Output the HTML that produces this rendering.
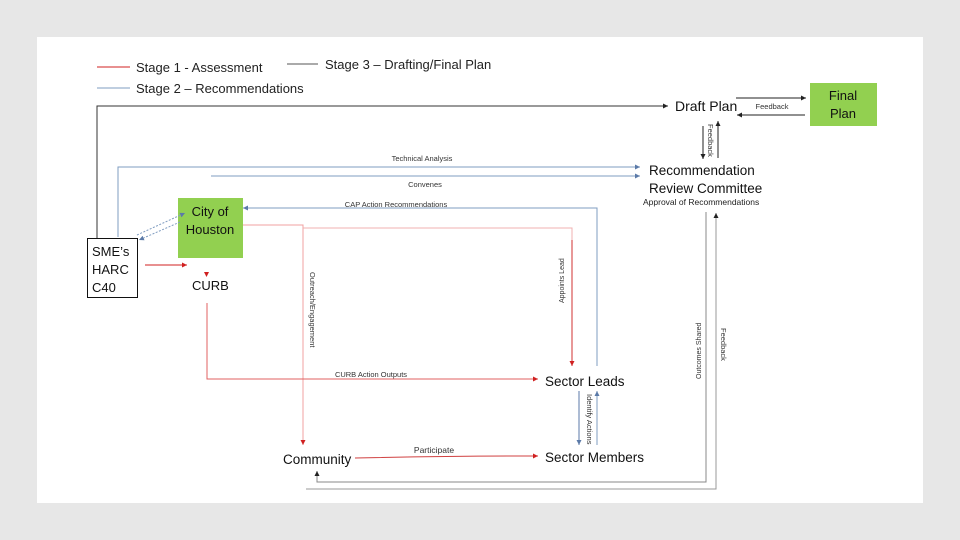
<!DOCTYPE html>
<html><head><meta charset="utf-8"><style>
html,body{margin:0;padding:0;background:#e7e7e7;}
svg{display:block;font-family:"Liberation Sans",sans-serif;}
</style></head><body>
<svg width="960" height="540" viewBox="0 0 960 540" xmlns="http://www.w3.org/2000/svg">
<defs>
<marker id="ak" markerWidth="6" markerHeight="6" refX="5" refY="3" orient="auto" markerUnits="userSpaceOnUse"><path d="M0,0.5 L5,3 L0,5.5z" fill="#222"/></marker>
<marker id="ab" markerWidth="6" markerHeight="6" refX="5" refY="3" orient="auto" markerUnits="userSpaceOnUse"><path d="M0,0.5 L5,3 L0,5.5z" fill="#5b7aa8"/></marker>
<marker id="ar" markerWidth="6" markerHeight="6" refX="5" refY="3" orient="auto" markerUnits="userSpaceOnUse"><path d="M0,0.5 L5,3 L0,5.5z" fill="#d02020"/></marker>
</defs>
<rect x="37" y="37" width="886" height="466" fill="#fff"/>
<!-- legend -->
<line x1="97" y1="67" x2="130" y2="67" stroke="#d02020"/>
<text x="136" y="72" font-size="13" fill="#222">Stage 1 - Assessment</text>
<line x1="287" y1="64" x2="318" y2="64" stroke="#555"/>
<text x="325" y="69" font-size="13" fill="#222">Stage 3 – Drafting/Final Plan</text>
<line x1="97" y1="88" x2="130" y2="88" stroke="#7f9cc0"/>
<text x="136" y="93" font-size="13" fill="#222">Stage 2 – Recommendations</text>
<!-- black top line -->
<polyline points="97,238 97,106 668,106" fill="none" stroke="#333" marker-end="url(#ak)"/>
<text x="675" y="111" font-size="14" fill="#111">Draft Plan</text>
<rect x="810" y="83" width="67" height="43" fill="#92d050"/>
<text x="843" y="100" font-size="13" text-anchor="middle" fill="#111">Final</text>
<text x="843" y="118" font-size="13" text-anchor="middle" fill="#111">Plan</text>
<line x1="736" y1="98" x2="806" y2="98" stroke="#222" marker-end="url(#ak)"/>
<line x1="805" y1="115" x2="737" y2="115" stroke="#222" marker-end="url(#ak)"/>
<text x="772" y="109" font-size="7.5" text-anchor="middle" fill="#333">Feedback</text>
<line x1="703" y1="126" x2="703" y2="159" stroke="#222" marker-end="url(#ak)"/>
<line x1="718" y1="158" x2="718" y2="121" stroke="#222" marker-end="url(#ak)"/>
<text transform="translate(708,124) rotate(90)" font-size="7.5" fill="#333">Feedback</text>
<text x="649" y="175" font-size="13.5" fill="#111">Recommendation</text>
<text x="649" y="193" font-size="13.5" fill="#111">Review Committee</text>
<text x="643" y="205" font-size="8.5" fill="#222">Approval of Recommendations</text>
<!-- blue lines -->
<polyline points="118,237 118,167 640,167" fill="none" stroke="#7f9cc0" marker-end="url(#ab)"/>
<text x="422" y="161" font-size="7.5" text-anchor="middle" fill="#333">Technical Analysis</text>
<line x1="211" y1="176" x2="640" y2="176" stroke="#7f9cc0" marker-end="url(#ab)"/>
<text x="425" y="187" font-size="7.5" text-anchor="middle" fill="#333">Convenes</text>
<polyline points="597,366 597,208 243,208" fill="none" stroke="#7f9cc0" marker-end="url(#ab)"/>
<text x="396" y="207" font-size="7.5" text-anchor="middle" fill="#333">CAP Action Recommendations</text>
<!-- city of houston -->
<rect x="178" y="198" width="65" height="60" fill="#92d050"/>
<text x="210" y="216" font-size="13" text-anchor="middle" fill="#111">City of</text>
<text x="210" y="234" font-size="13" text-anchor="middle" fill="#111">Houston</text>
<line x1="137" y1="235" x2="185" y2="213" stroke="#7f9cc0" stroke-dasharray="2,1.5" marker-end="url(#ab)"/>
<line x1="180" y1="222" x2="139" y2="240" stroke="#7f9cc0" stroke-dasharray="2,1.5" marker-end="url(#ab)"/>
<!-- SME box -->
<rect x="87.5" y="238.5" width="50" height="59" fill="#fff" stroke="#111"/>
<text x="92" y="256" font-size="13" fill="#111">SME’s</text>
<text x="92" y="274" font-size="13" fill="#111">HARC</text>
<text x="92" y="292" font-size="13" fill="#111">C40</text>
<line x1="145" y1="265" x2="187" y2="265" stroke="#d02020" marker-end="url(#ar)"/>
<text x="192" y="290" font-size="13" fill="#111">CURB</text>
<path d="M204,272 L209,272 L206.5,277z" fill="#d02020"/>
<!-- pink lines -->
<polyline points="243,225 303,225 303,445" fill="none" stroke="#f0a0a0" marker-end="url(#ar)"/>
<polyline points="303,228 572,228 572,365" fill="none" stroke="#f0b0b0"/>
<line x1="572" y1="240" x2="572" y2="366" stroke="#d03030" marker-end="url(#ar)"/>
<text transform="translate(564,303) rotate(-90)" font-size="7" fill="#333">Appoints Lead</text>
<text transform="translate(310,272) rotate(90)" font-size="7.5" fill="#333">Outreach/Engagement</text>
<polyline points="207,303 207,379 538,379" fill="none" stroke="#e06060" marker-end="url(#ar)"/>
<text x="371" y="377" font-size="7.5" text-anchor="middle" fill="#333">CURB Action Outputs</text>
<text x="545" y="386" font-size="13.5" fill="#111">Sector Leads</text>
<line x1="579" y1="391" x2="579" y2="445" stroke="#5b7aa8" marker-end="url(#ab)"/>
<line x1="597" y1="445" x2="597" y2="391" stroke="#7f9cc0" marker-end="url(#ab)"/>
<text transform="translate(587,394) rotate(90)" font-size="7.5" fill="#333">Identify Actions</text>
<text x="545" y="462" font-size="13.5" fill="#111">Sector Members</text>
<text x="283" y="464" font-size="13.5" fill="#111">Community</text>
<path d="M355,458 Q450,456 538,456" fill="none" stroke="#d04040" marker-end="url(#ar)"/>
<text x="434" y="453" font-size="8.5" text-anchor="middle" fill="#333">Participate</text>
<!-- gray outcome lines -->
<polyline points="706,212 706,482 317,482 317,471" fill="none" stroke="#888" marker-end="url(#ak)"/>
<polyline points="306,489 716,489 716,213" fill="none" stroke="#999" marker-end="url(#ak)"/>
<text transform="translate(701,379) rotate(-90)" font-size="7" fill="#333">Outcomes Shared</text>
<text transform="translate(721,328) rotate(90)" font-size="7.5" fill="#333">Feedback</text>
</svg>
</body></html>
